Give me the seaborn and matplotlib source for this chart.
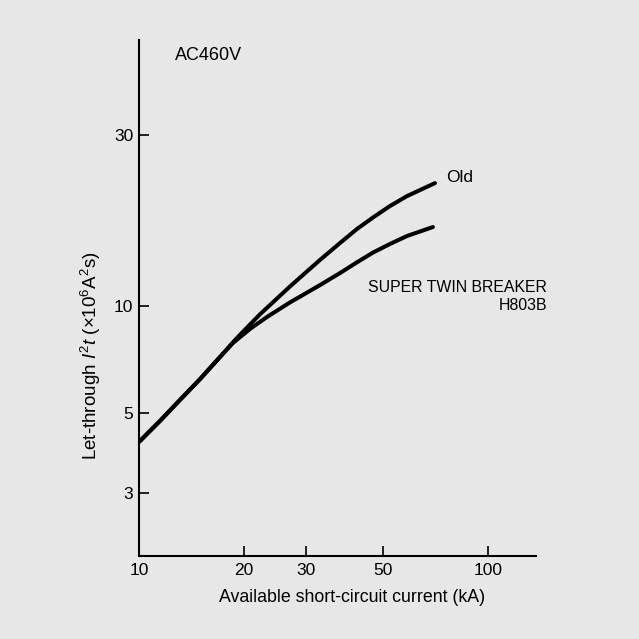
import numpy as np
import pandas as pd
import matplotlib
matplotlib.use("Agg")
import matplotlib.pyplot as plt
import seaborn as sns

# Data (log-log chart): current in kA, I^2t in 10^6 A^2 s
old_current = [10, 11.48, 13.10, 14.95, 17.05, 18.83, 20.78, 22.20, 27.05, 32.96,
               37.61, 42.06, 46.73, 52.28, 58.48, 70.34]
old_i2t     = [4.16, 4.76, 5.45, 6.23, 7.18, 8.01, 8.85, 9.45, 11.30, 13.40,
               14.94, 16.35, 17.60, 18.95, 20.20, 21.96]
new_current = [10, 11.48, 13.10, 14.95, 17.05, 18.58, 20.78, 23.25, 27.05, 32.96,
               37.61, 42.06, 46.73, 52.28, 58.48, 69.40]
new_i2t     = [4.16, 4.76, 5.45, 6.23, 7.18, 7.86, 8.60, 9.29, 10.20, 11.40,
               12.32, 13.20, 14.05, 14.85, 15.63, 16.56]

x_ticks = [10, 20, 30, 50, 100]
y_ticks = [3, 5, 10, 30]

df = pd.concat([
    pd.DataFrame({"current": old_current, "i2t": old_i2t, "series": "Old"}),
    pd.DataFrame({"current": new_current, "i2t": new_i2t, "series": "H803B"}),
])

sns.set_style("ticks")
plt.rcParams["font.family"] = ["Liberation Sans", "DejaVu Sans"]
plt.rcParams["mathtext.fontset"] = "custom"
plt.rcParams["mathtext.rm"] = "Liberation Sans"
plt.rcParams["mathtext.it"] = "Liberation Sans:italic"
plt.rcParams["text.color"] = "black"
plt.rcParams["axes.labelcolor"] = "black"

bg = "#e7e7e7"
fig = plt.figure(figsize=(6.39, 6.39), dpi=100, facecolor=bg)
ax = fig.add_axes([0.2175, 0.13, 0.6215, 0.807])
ax.set_facecolor(bg)

sns.lineplot(data=df, x="current", y="i2t", hue="series", units="series",
             estimator=None, palette={"Old": "black", "H803B": "black"},
             linewidth=2.9, legend=False, ax=ax, sort=False,
             solid_capstyle="round", solid_joinstyle="round")

ax.set_xscale("log")
ax.set_yscale("log")
ax.set_xlim(10, 137)
ax.set_ylim(2.0, 55)
ax.set_xticks(x_ticks)
ax.set_xticklabels([str(t) for t in x_ticks])
ax.set_yticks(y_ticks)
ax.set_yticklabels([str(t) for t in y_ticks])
ax.minorticks_off()
ax.tick_params(axis="both", direction="in", length=7, width=1.2,
               labelsize=12.5, color="black", labelcolor="black")
ax.tick_params(axis="x", pad=5)
ax.tick_params(axis="y", pad=4)

for side in ["top", "right"]:
    ax.spines[side].set_visible(False)
for side in ["left", "bottom"]:
    ax.spines[side].set_linewidth(1.5)
    ax.spines[side].set_color("black")

ax.set_xlabel("")
ax.set_ylabel("")
fig.text(352 / 639, 1 - 597 / 639, "Available short-circuit current (kA)",
         fontsize=12.8, ha="center", va="center")
fig.text(91 / 639, 1 - 356 / 639,
         r"Let-through $I^2t$ $(\times10^6$A$^2$s$)$",
         fontsize=13.5, ha="center", va="center", rotation=90)

fig.text(175 / 639, 1 - 55 / 639, "AC460V", fontsize=13, ha="left", va="center")
fig.text(446 / 639, 1 - 178 / 639, "Old", fontsize=12.5, ha="left", va="center")
fig.text(547 / 639, 1 - 287.5 / 639, "SUPER TWIN BREAKER", fontsize=11.4, ha="right", va="center")
fig.text(547 / 639, 1 - 305 / 639, "H803B", fontsize=11.4, ha="right", va="center")

fig.savefig("out.png", dpi=100, facecolor=bg)
